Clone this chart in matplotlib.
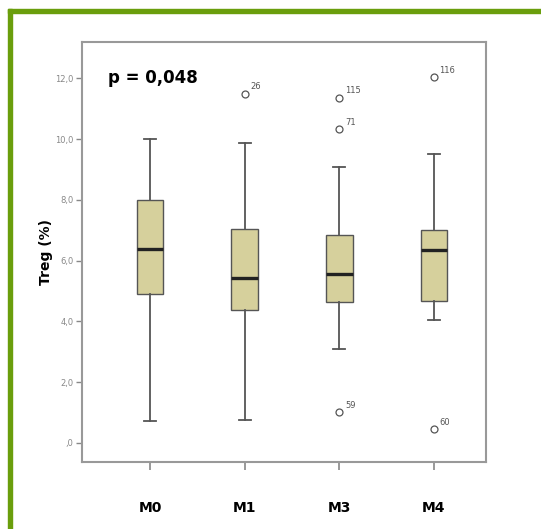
import matplotlib.pyplot as plt
from matplotlib.patches import Rectangle

# box statistics
groups = ['M0', 'M1', 'M3', 'M4']
whislo = [0.72, 0.75, 3.1, 4.05]
q1 = [4.9, 4.38, 4.63, 4.68]
med = [6.37, 5.42, 5.57, 6.36]
q3 = [7.99, 7.05, 6.84, 7.02]
whishi = [10.0, 9.86, 9.1, 9.5]
fliers = [[], [11.5], [11.37, 10.32, 1.02], [12.05, 0.46]]
flier_ids = [[], ['26'], ['115', '71', '59'], ['116', '60']]
yticks = [0, 2, 4, 6, 8, 10, 12]
ytick_labels = [',0', '2,0', '4,0', '6,0', '8,0', '10,0', '12,0']

stats = []
for i, g in enumerate(groups):
    stats.append(dict(label=g, whislo=whislo[i], q1=q1[i], med=med[i],
                      q3=q3[i], whishi=whishi[i], fliers=fliers[i]))

fig = plt.figure(figsize=(5.41, 5.29), dpi=100)
ax = fig.add_axes([82/541, 1 - 462/529, 404/541, 420/529])

pos = [1, 2, 3, 4]
ax.bxp(stats, positions=pos, widths=0.28, patch_artist=True,
       boxprops=dict(facecolor='#d6d09c', edgecolor='#555555', linewidth=1.0),
       medianprops=dict(color='#222222', linewidth=2.4),
       whiskerprops=dict(color='#555555', linewidth=1.3),
       capprops=dict(color='#555555', linewidth=1.3),
       capwidths=0.13,
       flierprops=dict(marker='o', markersize=5, markerfacecolor='white',
                       markeredgecolor='#555555', markeredgewidth=0.9))

for i, (vals, ids) in enumerate(zip(fliers, flier_ids)):
    for v, t in zip(vals, ids):
        ax.annotate(t, (pos[i], v), xytext=(4, 3), textcoords='offset points',
                    fontsize=6, color='#555555')

ax.set_xlim(0.28, 4.55)
ax.set_ylim(-0.63, 13.2)
ax.set_yticks(yticks)
ax.set_yticklabels(ytick_labels, fontsize=6, color='#888888')
ax.set_xticks(pos)
ax.set_xticklabels(groups, fontsize=10, fontweight='bold')
ax.tick_params(axis='x', length=6, width=1.2, color='#888888', pad=22)
ax.tick_params(axis='y', length=4, width=1.0, color='#888888', pad=2)
for s in ax.spines.values():
    s.set_color('#999999')
    s.set_linewidth(1.5)
ax.set_ylabel('Treg (%)', fontsize=10, fontweight='bold', labelpad=2)

ax.text(0.064, 0.915, 'p = 0,048', transform=ax.transAxes, fontsize=12,
        fontweight='bold', va='center')

# green frame around the figure
green = '#6a9e0c'
fig.patches.append(Rectangle((8/541, 0), 4/541, 1 - 9/529, transform=fig.transFigure,
                             color=green, zorder=0))
fig.patches.append(Rectangle((8/541, 1 - 13/529), 1, 4/529, transform=fig.transFigure,
                             color=green, zorder=0))

fig.savefig('out.png', dpi=100)
